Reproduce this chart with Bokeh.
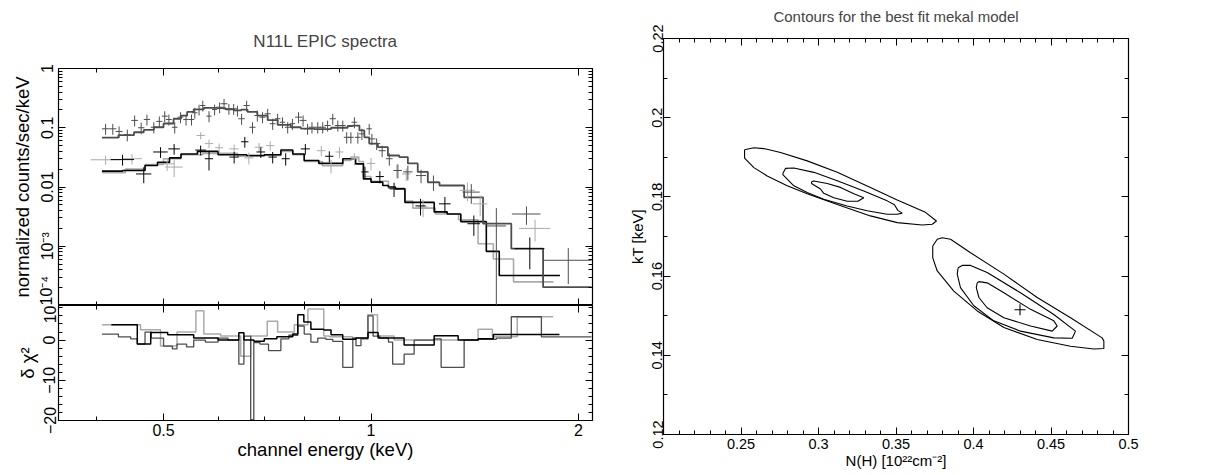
from bokeh.plotting import figure
from bokeh.layouts import row, column
from bokeh.models import FixedTicker, LogAxis, LinearAxis, Range1d, ColumnDataSource
from bokeh.embed import file_html
from bokeh.resources import INLINE

FONT = "Liberation Sans"

# ---------------- spectra (upper left) ----------------
pn_e = [0.412, 0.422, 0.431, 0.443, 0.454, 0.464, 0.473, 0.484, 0.493, 0.502,
        0.509, 0.519, 0.529, 0.539, 0.549, 0.555, 0.563, 0.570, 0.582, 0.593,
        0.603, 0.612, 0.622, 0.632, 0.640, 0.649, 0.660, 0.673, 0.684, 0.696,
        0.708, 0.720, 0.732, 0.744, 0.757, 0.769, 0.785, 0.797, 0.809, 0.821,
        0.837, 0.851, 0.865, 0.880, 0.895, 0.910, 0.922, 0.935, 0.946, 0.957,
        0.970, 0.994, 1.003, 1.019, 1.038, 1.063, 1.094, 1.131, 1.182, 1.232,
        1.398, 1.52, 1.681, 1.933]
pn_rate = [0.096, 0.096, 0.0865, 0.076, 0.133, 0.100, 0.138, 0.102, 0.128, 0.157,
           0.138, 0.102, 0.151, 0.138, 0.138, 0.179, 0.203, 0.237, 0.157, 0.203,
           0.222, 0.254, 0.209, 0.209, 0.195, 0.142, 0.237, 0.102, 0.161, 0.151,
           0.172, 0.117, 0.142, 0.124, 0.102, 0.117, 0.151, 0.133, 0.096, 0.102,
           0.102, 0.102, 0.109, 0.142, 0.109, 0.109, 0.069, 0.069, 0.124, 0.069,
           0.079, 0.096, 0.065, 0.054, 0.041, 0.030, 0.019, 0.018, 0.0156, 0.0121,
           0.0082, 0.0022, 0.0035, 0.00058]
pn_err = [0.020, 0.020, 0.019, 0.017, 0.028, 0.022, 0.029, 0.022, 0.027, 0.033,
          0.029, 0.022, 0.032, 0.029, 0.029, 0.037, 0.042, 0.049, 0.033, 0.042,
          0.046, 0.052, 0.043, 0.043, 0.041, 0.030, 0.049, 0.022, 0.034, 0.032,
          0.036, 0.025, 0.030, 0.026, 0.022, 0.025, 0.032, 0.028, 0.020, 0.022,
          0.022, 0.022, 0.023, 0.030, 0.023, 0.023, 0.015, 0.015, 0.026, 0.015,
          0.017, 0.020, 0.014, 0.012, 0.009, 0.007, 0.005, 0.005, 0.004, 0.0035,
          0.003, 0.0022, 0.0012, 0.00035]
pn_de = [0.005, 0.005, 0.005, 0.005, 0.005, 0.005, 0.005, 0.005, 0.005, 0.005,
         0.005, 0.005, 0.005, 0.005, 0.005, 0.005, 0.005, 0.005, 0.005, 0.005,
         0.007, 0.007, 0.007, 0.007, 0.007, 0.007, 0.007, 0.007, 0.007, 0.007,
         0.007, 0.007, 0.007, 0.007, 0.007, 0.007, 0.009, 0.009, 0.009, 0.009,
         0.009, 0.009, 0.009, 0.009, 0.009, 0.009, 0.009, 0.009, 0.009, 0.009,
         0.009, 0.009, 0.012, 0.012, 0.012, 0.012, 0.015, 0.018, 0.020, 0.022,
         0.040, 0.050, 0.080, 0.156]
pn_model_edges = [0.407, 0.43, 0.453, 0.468, 0.484, 0.50, 0.517, 0.53, 0.541, 0.553,
                  0.572, 0.598, 0.615, 0.633, 0.648, 0.662, 0.684, 0.708, 0.732, 0.765,
                  0.791, 0.827, 0.875, 0.925, 0.941, 0.962, 0.978, 0.994, 1.023, 1.058,
                  1.099, 1.131, 1.169, 1.209, 1.257, 1.365, 1.454, 1.598, 1.777, 2.089]
pn_model = [0.068, 0.075, 0.084, 0.092, 0.102, 0.118, 0.142, 0.160, 0.185, 0.205,
            0.217, 0.215, 0.205, 0.196, 0.203, 0.185, 0.160, 0.135, 0.112, 0.102,
            0.097, 0.095, 0.100, 0.107, 0.109, 0.090, 0.069, 0.054, 0.047, 0.034,
            0.032, 0.025, 0.018, 0.012, 0.0106, 0.0067, 0.0024, 0.00091, 0.000204]

mos1_e = [0.436, 0.468, 0.495, 0.518, 0.566, 0.582, 0.633, 0.656, 0.692, 0.720,
          0.752, 0.803, 0.870, 0.980, 1.030, 1.080, 1.180, 1.280, 1.410, 1.700]
mos1_rate = [0.029, 0.0166, 0.039, 0.044, 0.042, 0.030, 0.032, 0.058, 0.039, 0.032,
             0.030, 0.044, 0.033, 0.018, 0.015, 0.0093, 0.0048, 0.0052, 0.0024, 0.00091]
mos1_err = [0.006, 0.005, 0.008, 0.009, 0.008, 0.011, 0.007, 0.012, 0.008, 0.007,
            0.007, 0.009, 0.007, 0.004, 0.0035, 0.0025, 0.0015, 0.0016, 0.0009, 0.0005]
mos1_de = [0.017, 0.012, 0.012, 0.010, 0.010, 0.008, 0.010, 0.008, 0.010, 0.010,
           0.010, 0.012, 0.012, 0.012, 0.014, 0.016, 0.020, 0.025, 0.030, 0.085]
mos1_model_edges = [0.407, 0.436, 0.47, 0.49, 0.51, 0.53, 0.56, 0.60, 0.66, 0.70,
                    0.74, 0.77, 0.80, 0.84, 0.91, 0.95, 0.975, 1.0, 1.04, 1.06,
                    1.085, 1.12, 1.235, 1.29, 1.35, 1.47, 1.535, 1.88]
mos1_model = [0.0185, 0.019, 0.023, 0.026, 0.031, 0.036, 0.040, 0.035, 0.034, 0.035,
              0.042, 0.036, 0.028, 0.025, 0.030, 0.0246, 0.0137, 0.0121, 0.0106, 0.010,
              0.0093, 0.0055, 0.0038, 0.0035, 0.0026, 0.00082, 0.00032]

mos2_e = [0.412, 0.450, 0.506, 0.518, 0.566, 0.582, 0.602, 0.633, 0.665, 0.688,
          0.714, 0.847, 0.875, 0.900, 0.946, 1.000, 1.090, 1.125, 1.190, 1.380,
          1.440, 1.730]
mos2_rate = [0.0288, 0.030, 0.0246, 0.0217, 0.074, 0.054, 0.046, 0.044, 0.031, 0.047,
             0.050, 0.041, 0.023, 0.039, 0.030, 0.025, 0.019, 0.0166, 0.0046, 0.0088,
             0.0052, 0.0020]
mos2_err = [0.005, 0.006, 0.006, 0.007, 0.010, 0.009, 0.008, 0.008, 0.007, 0.008,
            0.009, 0.008, 0.006, 0.008, 0.007, 0.006, 0.005, 0.004, 0.0015, 0.003,
            0.002, 0.0008]
mos2_de = [0.020, 0.015, 0.012, 0.015, 0.008, 0.008, 0.008, 0.010, 0.010, 0.010,
           0.010, 0.012, 0.012, 0.012, 0.012, 0.014, 0.014, 0.016, 0.020, 0.035,
           0.035, 0.090]
mos2_model_edges = [0.407, 0.44, 0.47, 0.50, 0.53, 0.57, 0.64, 0.70, 0.74, 0.77,
                    0.80, 0.85, 0.91, 0.935, 0.96, 0.975, 1.0, 1.06, 1.12, 1.15,
                    1.24, 1.34, 1.43, 1.505, 1.61, 1.84]
mos2_model = [0.0175, 0.020, 0.024, 0.030, 0.035, 0.037, 0.033, 0.034, 0.040, 0.035,
              0.027, 0.0228, 0.028, 0.032, 0.027, 0.015, 0.0125, 0.0095, 0.0058, 0.0044,
              0.0035, 0.0028, 0.0011, 0.00061, 0.00025]

# ---------------- residuals (lower left) ----------------
res_pn_edges = [0.407, 0.43, 0.448, 0.458, 0.47, 0.48, 0.50, 0.515, 0.523, 0.54,
                0.553, 0.575, 0.60, 0.62, 0.643, 0.654, 0.669, 0.676, 0.69, 0.71,
                0.74, 0.76, 0.783, 0.80, 0.818, 0.837, 0.86, 0.88, 0.91, 0.941,
                0.951, 0.967, 0.99, 1.007, 1.03, 1.06, 1.075, 1.117, 1.155, 1.235,
                1.264, 1.365, 1.43, 1.52, 1.598, 1.767, 2.089]
res_pn = [1.5, 0.8, 0.3, -1.0, 2.0, 0.5, -1.5, -2.2, -1.0, -1.7,
          0.0, -0.5, 0.5, 0.0, -6.0, 1.0, -19.8, -0.6, -1.0, -2.6,
          0.3, 1.2, 3.5, 1.5, -0.5, 0.5, 0.2, -0.3, -6.8, 0.5,
          -1.4, 0.3, 6.0, 1.0, 0.5, -0.5, -6.0, -3.5, 0.0, 0.3,
          -6.8, 0.0, 0.2, 0.5, 5.8, 0.8]
res_mos1_edges = [0.42, 0.458, 0.479, 0.507, 0.553, 0.60, 0.643, 0.654, 0.676, 0.70,
                  0.73, 0.77, 0.783, 0.799, 0.818, 0.854, 0.875, 0.91, 0.951, 0.99,
                  1.024, 1.052, 1.117, 1.235, 1.338, 1.431, 1.505, 1.877]
res_mos1 = [3.8, -1.0, 1.9, 1.3, 0.5, 0.0, 1.8, 0.0, -0.3, 0.3,
            0.8, 1.5, 6.3, 4.5, 2.7, 2.5, 1.3, 0.2, 0.5, 1.9,
            0.5, 0.5, -1.25, 1.1, 0.0, 0.3, 1.4]
res_mos2_edges = [0.407, 0.463, 0.495, 0.523, 0.557, 0.572, 0.605, 0.647, 0.669, 0.707,
                  0.732, 0.774, 0.81, 0.854, 0.87, 0.94, 0.989, 1.022, 1.08, 1.43,
                  1.50, 1.63, 1.838]
res_mos2 = [3.8, 2.6, -1.5, 2.0, 7.3, 1.5, 1.0, -4.0, 1.0, 4.7,
            2.0, 3.8, 7.7, 1.0, 0.8, 0.5, 6.3, 1.0, 0.0, 2.7,
            0.8, 5.8]

# ---------------- confidence contours (right) ----------------
c1_outer_nh = [0.2523, 0.2583, 0.2647, 0.2755, 0.2927, 0.3121, 0.3335, 0.3508, 0.3690, 0.3761,
               0.3734, 0.3669, 0.3508, 0.3335, 0.3121, 0.2927, 0.2798, 0.2669, 0.2583, 0.2523]
c1_outer_kt = [0.1919, 0.1924, 0.1922, 0.1912, 0.1891, 0.1862, 0.1824, 0.1792, 0.1761, 0.1739,
               0.1731, 0.1729, 0.1735, 0.1752, 0.1781, 0.1808, 0.1828, 0.1853, 0.1874, 0.1898]
c1_mid_nh = [0.2770, 0.2787, 0.2841, 0.2970, 0.3121, 0.3292, 0.3443, 0.3490, 0.3512, 0.3540,
             0.3508, 0.3443, 0.3314, 0.3185, 0.3034, 0.2927, 0.2841, 0.2770]
c1_mid_kt = [0.1859, 0.1872, 0.1873, 0.1862, 0.1841, 0.1815, 0.1790, 0.1780, 0.1766, 0.1759,
             0.1756, 0.1756, 0.1765, 0.1777, 0.1794, 0.1811, 0.1828, 0.1856]
c1_in_nh = [0.2955, 0.2970, 0.3056, 0.3142, 0.3228, 0.3292, 0.3254, 0.3185, 0.3099, 0.3034, 0.3013, 0.2955]
c1_in_kt = [0.1838, 0.1840, 0.1834, 0.1824, 0.1808, 0.1798, 0.1789, 0.1789, 0.1798, 0.1809, 0.1820, 0.1834]
c2_outer_nh = [0.3737, 0.3766, 0.3798, 0.3852, 0.3981, 0.4196, 0.4411, 0.4626, 0.4830, 0.4841,
               0.4841, 0.4776, 0.4626, 0.4411, 0.4196, 0.4024, 0.3873, 0.3766, 0.3737]
c2_outer_kt = [0.1676, 0.1693, 0.1697, 0.1693, 0.1659, 0.1605, 0.1546, 0.1495, 0.1444, 0.1436,
               0.1417, 0.1416, 0.1423, 0.1440, 0.1470, 0.1512, 0.1562, 0.1613, 0.1646]
c2_mid_nh = [0.3901, 0.3927, 0.3981, 0.4088, 0.4303, 0.4518, 0.4658, 0.4637, 0.4518, 0.4303,
             0.4131, 0.4002, 0.3916, 0.3895]
c2_mid_kt = [0.1621, 0.1627, 0.1627, 0.1609, 0.1558, 0.1503, 0.1461, 0.1443, 0.1444, 0.1461,
             0.1487, 0.1525, 0.1571, 0.1605]
c2_in_nh = [0.4024, 0.4035, 0.4088, 0.4196, 0.4368, 0.4518, 0.4540, 0.4508, 0.4368, 0.4196,
            0.4088, 0.4035, 0.4018]
c2_in_kt = [0.1583, 0.1586, 0.1583, 0.1558, 0.1516, 0.1487, 0.1474, 0.1461, 0.1474, 0.1495,
            0.1520, 0.1546, 0.1571]
best_nh = [0.430]
best_kt = [0.1515]

# tick definitions
e_ticks = [0.5, 1, 2]
e_minor = [0.4, 0.6, 0.7, 0.8, 0.9]
rate_ticks = [1e-4, 1e-3, 1e-2, 1e-1, 1]
rate_labels = {1e-4: "10\u207b\u2074", 1e-3: "10\u207b\u00b3", 1e-2: "0.01", 1e-1: "0.1", 1: "1"}
res_ticks = [-20, -10, 0, 8.6]
res_labels = {-20: "\u221220", -10: "\u221210", 0: "0", 8.6: "10"}
res_minor = [-18, -16, -14, -12, -8, -6, -4, -2, 2, 4, 6, 8]
nh_ticks = [0.25, 0.3, 0.35, 0.4, 0.45, 0.5]
nh_minor = [0.21, 0.22, 0.23, 0.24, 0.26, 0.27, 0.28, 0.29, 0.31, 0.32, 0.33, 0.34,
            0.36, 0.37, 0.38, 0.39, 0.41, 0.42, 0.43, 0.44, 0.46, 0.47, 0.48, 0.49]
kt_ticks = [0.12, 0.14, 0.16, 0.18, 0.2, 0.22]
kt_minor = [0.13, 0.15, 0.17, 0.19, 0.21]

C_PN = "#4d4d4d"
C_M1 = "#000000"
C_M2 = "#aaaaaa"


def style_axis(ax, ticks, minor, labels=None, orient="horizontal", title=None,
               tick_size="14px", title_size="15px"):
    ax.ticker = FixedTicker(ticks=ticks, minor_ticks=minor)
    ax.major_tick_in = 7
    ax.major_tick_out = 0
    ax.minor_tick_in = 4
    ax.minor_tick_out = 0
    ax.major_tick_line_color = "black"
    ax.minor_tick_line_color = "black"
    ax.axis_line_color = None
    if labels is None:
        ax.major_label_overrides = {t: "" for t in ticks}
        ax.major_label_text_font_size = "0px"
        ax.major_label_standoff = 0
        ax.axis_label = None
    else:
        ax.major_label_overrides = labels
        ax.major_label_text_font = FONT
        ax.major_label_text_font_size = tick_size
        ax.major_label_text_color = "black"
        ax.major_label_orientation = orient
        ax.major_label_standoff = 3
        if title is not None:
            ax.axis_label = title
            ax.axis_label_text_font = FONT
            ax.axis_label_text_font_size = title_size
            ax.axis_label_text_font_style = "normal"
            ax.axis_label_text_color = "black"
            ax.axis_label_standoff = 4


def spacer_axis(ax, ticks, minor, gap):
    # tick-only axis on the top edge that also leaves `gap` pixels below the title
    style_axis(ax, ticks, minor)
    ax.major_label_overrides = {t: " " for t in ticks}
    ax.major_label_text_font_size = "%dpx" % gap
    ax.major_label_text_color = "white"
    ax.major_label_standoff = 0


def base_fig(**kw):
    p = figure(output_backend="svg", toolbar_location=None, **kw)
    p.xgrid.visible = False
    p.ygrid.visible = False
    p.outline_line_color = "black"
    p.outline_line_width = 1.2
    p.background_fill_color = "white"
    p.border_fill_color = "white"
    return p


def step_xy(edges, vals):
    xs, ys = [], []
    for i, v in enumerate(vals):
        xs += [edges[i], edges[i + 1]]
        ys += [v, v]
    return xs, ys


def crosses(p, e, de, r, err, color):
    lo = [max(ri - ei, 1e-7) for ri, ei in zip(r, err)]
    hi = [ri + ei for ri, ei in zip(r, err)]
    x0 = [a - b for a, b in zip(e, de)]
    x1 = [a + b for a, b in zip(e, de)]
    src = ColumnDataSource(dict(e=e, r=r, lo=lo, hi=hi, x0=x0, x1=x1))
    p.segment(x0="x0", x1="x1", y0="r", y1="r", source=src, line_color=color, line_width=1)
    p.segment(x0="e", x1="e", y0="lo", y1="hi", source=src, line_color=color, line_width=1)


LT = "16px"    # tick-label size of the left (spectra) figure
LA = "18.5px"  # axis-label size of the left figure

# ---------- upper-left: spectra ----------
p1 = base_fig(x_axis_type="log", y_axis_type="log",
              x_range=Range1d(0.352, 2.096), y_range=Range1d(1e-4, 1),
              frame_width=534, frame_height=237, title="N11L EPIC spectra")
p1.min_border_left = 58
p1.min_border_right = 28
p1.min_border_top = 68
p1.min_border_bottom = 0
p1.title.align = "center"
p1.title.text_font = FONT
p1.title.text_font_size = "17px"
p1.title.text_font_style = "normal"
style_axis(p1.xaxis[0], e_ticks, e_minor)
style_axis(p1.yaxis[0], rate_ticks, [m * 10.0 ** k for k in range(-4, 0) for m in range(2, 10)],
           labels=rate_labels, orient="vertical", title="normalized counts/sec/keV",
           tick_size=LT, title_size=LA)
p1.yaxis[0].axis_label_standoff = 3
ax = LogAxis()
spacer_axis(ax, e_ticks, e_minor, 9)
p1.add_layout(ax, "above")
ax = LogAxis()
style_axis(ax, rate_ticks, [m * 10.0 ** k for k in range(-4, 0) for m in range(2, 10)])
p1.add_layout(ax, "right")

xs, ys = step_xy(mos2_model_edges, mos2_model)
p1.line(xs, ys, line_color=C_M2, line_width=1.6)
xs, ys = step_xy(mos1_model_edges, mos1_model)
p1.line(xs, ys, line_color=C_M1, line_width=1.6)
xs, ys = step_xy(pn_model_edges, pn_model)
p1.line(xs, ys, line_color=C_PN, line_width=1.8)
crosses(p1, mos2_e, mos2_de, mos2_rate, mos2_err, C_M2)
crosses(p1, mos1_e, mos1_de, mos1_rate, mos1_err, C_M1)
crosses(p1, pn_e, pn_de, pn_rate, pn_err, C_PN)

# ---------- lower-left: residuals ----------
p2 = base_fig(x_axis_type="log", x_range=p1.x_range, y_range=Range1d(-20, 8.6),
              frame_width=534, frame_height=115)
p2.min_border_left = 58
p2.min_border_right = 28
p2.min_border_top = 0
p2.min_border_bottom = 52
style_axis(p2.xaxis[0], e_ticks, e_minor, labels={0.5: "0.5", 1: "1", 2: "2"},
           title="channel energy (keV)", tick_size=LT, title_size=LA)
p2.xaxis[0].major_label_standoff = 3
p2.xaxis[0].axis_label_standoff = 0
style_axis(p2.yaxis[0], res_ticks, res_minor, labels=res_labels, orient="vertical",
           title="\u03b4 \u03c7\u00b2", tick_size=LT, title_size=LA)
p2.yaxis[0].axis_label_standoff = 3
ax = LogAxis()
style_axis(ax, e_ticks, e_minor)
p2.add_layout(ax, "above")
ax = LinearAxis()
style_axis(ax, res_ticks, res_minor)
p2.add_layout(ax, "right")

xs, ys = step_xy(res_mos2_edges, res_mos2)
p2.line(xs, ys, line_color=C_M2, line_width=1.5)
xs, ys = step_xy(res_pn_edges, res_pn)
p2.line(xs, ys, line_color=C_PN, line_width=1.3)
xs, ys = step_xy(res_mos1_edges, res_mos1)
p2.line(xs, ys, line_color=C_M1, line_width=1.5)

# ---------- right: contours ----------
p3 = base_fig(x_range=Range1d(0.2, 0.5), y_range=Range1d(0.12, 0.22),
              frame_width=465, frame_height=396, title="Contours for the best fit mekal model")
p3.min_border_left = 43
p3.min_border_right = 20
p3.min_border_top = 38
p3.min_border_bottom = 37
p3.title.align = "center"
p3.title.text_font = FONT
p3.title.text_font_size = "15px"
p3.title.text_font_style = "normal"
style_axis(p3.xaxis[0], nh_ticks, nh_minor, labels={t: str(t) for t in nh_ticks},
           title="N(H) [10\u00b2\u00b2cm\u207b\u00b2]", tick_size="14.5px")
p3.xaxis[0].major_label_standoff = 4
p3.xaxis[0].axis_label_standoff = 0
style_axis(p3.yaxis[0], kt_ticks, kt_minor, labels={t: str(t) for t in kt_ticks},
           orient="vertical", title="kT [keV]", tick_size="14.5px")
p3.yaxis[0].major_label_standoff = 1
ax = LinearAxis()
spacer_axis(ax, nh_ticks, nh_minor, 5)
p3.add_layout(ax, "above")
ax = LinearAxis()
style_axis(ax, kt_ticks, kt_minor)
p3.add_layout(ax, "right")

for cx, cy in [(c1_outer_nh, c1_outer_kt), (c1_mid_nh, c1_mid_kt), (c1_in_nh, c1_in_kt),
               (c2_outer_nh, c2_outer_kt), (c2_mid_nh, c2_mid_kt), (c2_in_nh, c2_in_kt)]:
    p3.line(cx + cx[:1], cy + cy[:1], line_color="black", line_width=1.1)
p3.scatter(best_nh, best_kt, marker="cross", size=11, line_color="black", line_width=1.1)

layout = row(column(p1, p2), p3)
open("out.html", "w").write(file_html(layout, INLINE))
